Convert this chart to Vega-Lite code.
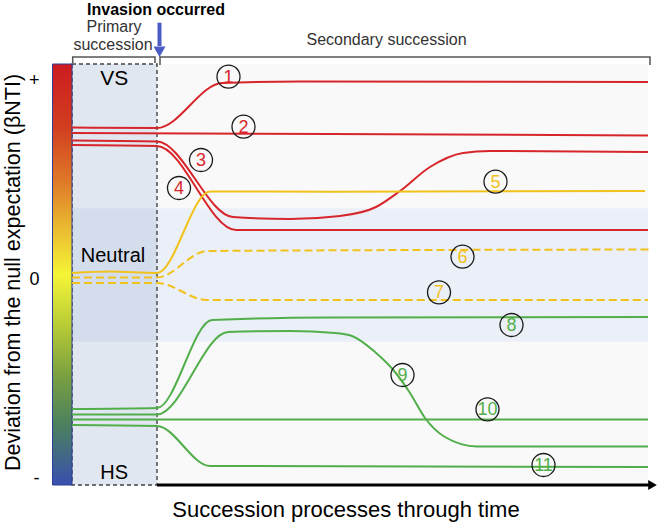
{
  "$schema": "https://vega.github.io/schema/vega-lite/v6.json",
  "width": 585,
  "height": 421,
  "autosize": {"type": "none"},
  "padding": {"left": 72, "top": 64, "right": 3, "bottom": 37},
  "background": "white",
  "config": {"font": "Liberation Sans", "view": {"stroke": null}},
  "datasets": {
    "curves": [
      {"id": 1, "group": "VS", "t": -17, "y": 1.475},
      {"id": 1, "group": "VS", "t": 0, "y": 1.47},
      {"id": 1, "group": "VS", "t": 13, "y": 1.92},
      {"id": 1, "group": "VS", "t": 28.6, "y": 1.935},
      {"id": 1, "group": "VS", "t": 98.2, "y": 1.93},
      {"id": 2, "group": "VS", "t": -17, "y": 1.42},
      {"id": 2, "group": "VS", "t": 34.6, "y": 1.41},
      {"id": 2, "group": "VS", "t": 98.2, "y": 1.395},
      {"id": 3, "group": "VS", "t": -17, "y": 1.345},
      {"id": 3, "group": "VS", "t": 0, "y": 1.335},
      {"id": 3, "group": "VS", "t": 15.2, "y": 0.58},
      {"id": 3, "group": "VS", "t": 26.6, "y": 0.56},
      {"id": 3, "group": "VS", "t": 36.6, "y": 0.59},
      {"id": 3, "group": "VS", "t": 43.8, "y": 0.68},
      {"id": 3, "group": "VS", "t": 48.6, "y": 0.84},
      {"id": 3, "group": "VS", "t": 54.6, "y": 1.08},
      {"id": 3, "group": "VS", "t": 61.2, "y": 1.22},
      {"id": 3, "group": "VS", "t": 66.6, "y": 1.24},
      {"id": 3, "group": "VS", "t": 98.2, "y": 1.23},
      {"id": 4, "group": "VS", "t": -17, "y": 1.30},
      {"id": 4, "group": "VS", "t": 0, "y": 1.29},
      {"id": 4, "group": "VS", "t": 15.8, "y": 0.45},
      {"id": 4, "group": "VS", "t": 98.2, "y": 0.45},
      {"id": 5, "group": "Neutral", "t": -17, "y": 0.02},
      {"id": 5, "group": "Neutral", "t": -9.4, "y": 0.035},
      {"id": 5, "group": "Neutral", "t": 0, "y": 0.02},
      {"id": 5, "group": "Neutral", "t": 10.6, "y": 0.835},
      {"id": 5, "group": "Neutral", "t": 34.6, "y": 0.833},
      {"id": 5, "group": "Neutral", "t": 97.6, "y": 0.84},
      {"id": 6, "group": "Neutral", "t": -17, "y": -0.025},
      {"id": 6, "group": "Neutral", "t": 0, "y": -0.025},
      {"id": 6, "group": "Neutral", "t": 10, "y": 0.24},
      {"id": 6, "group": "Neutral", "t": 98.4, "y": 0.255},
      {"id": 7, "group": "Neutral", "t": -17, "y": -0.08},
      {"id": 7, "group": "Neutral", "t": 0, "y": -0.08},
      {"id": 7, "group": "Neutral", "t": 10, "y": -0.25},
      {"id": 7, "group": "Neutral", "t": 98.2, "y": -0.25},
      {"id": 8, "group": "HS", "t": -17, "y": -1.34},
      {"id": 8, "group": "HS", "t": 0, "y": -1.33},
      {"id": 8, "group": "HS", "t": 11, "y": -0.45},
      {"id": 8, "group": "HS", "t": 34.6, "y": -0.425},
      {"id": 8, "group": "HS", "t": 98.2, "y": -0.42},
      {"id": 9, "group": "HS", "t": -17, "y": -1.395},
      {"id": 9, "group": "HS", "t": 0, "y": -1.395},
      {"id": 9, "group": "HS", "t": 14.2, "y": -0.57},
      {"id": 9, "group": "HS", "t": 26.6, "y": -0.56},
      {"id": 9, "group": "HS", "t": 35.6, "y": -0.58},
      {"id": 9, "group": "HS", "t": 39, "y": -0.61},
      {"id": 9, "group": "HS", "t": 43.6, "y": -0.77},
      {"id": 9, "group": "HS", "t": 47.6, "y": -0.97},
      {"id": 9, "group": "HS", "t": 50.6, "y": -1.18},
      {"id": 9, "group": "HS", "t": 53.6, "y": -1.43},
      {"id": 9, "group": "HS", "t": 57.6, "y": -1.62},
      {"id": 9, "group": "HS", "t": 64, "y": -1.715},
      {"id": 9, "group": "HS", "t": 98.2, "y": -1.715},
      {"id": 10, "group": "HS", "t": -17, "y": -1.445},
      {"id": 10, "group": "HS", "t": 98.2, "y": -1.445},
      {"id": 11, "group": "HS", "t": -17, "y": -1.50},
      {"id": 11, "group": "HS", "t": 0, "y": -1.51},
      {"id": 11, "group": "HS", "t": 10.6, "y": -1.91},
      {"id": 11, "group": "HS", "t": 98.2, "y": -1.92}
    ],
    "markers": [
      {"num": "1", "group": "VS", "t": 14.3, "y": 1.983},
      {"num": "2", "group": "VS", "t": 17.3, "y": 1.483},
      {"num": "3", "group": "VS", "t": 8.8, "y": 1.15},
      {"num": "4", "group": "VS", "t": 4.4, "y": 0.87},
      {"num": "5", "group": "Neutral", "t": 67.7, "y": 0.933},
      {"num": "6", "group": "Neutral", "t": 61.1, "y": 0.183},
      {"num": "7", "group": "Neutral", "t": 56.4, "y": -0.173},
      {"num": "8", "group": "HS", "t": 70.9, "y": -0.5},
      {"num": "9", "group": "HS", "t": 49.1, "y": -1.0},
      {"num": "10", "group": "HS", "t": 66.1, "y": -1.343},
      {"num": "11", "group": "HS", "t": 77.3, "y": -1.9}
    ]
  },
  "encoding": {
    "x": {
      "field": "t", "type": "quantitative",
      "scale": {"domain": [-17, 100], "nice": false, "zero": false},
      "axis": {
        "title": "Succession processes through time",
        "titleFontSize": 22, "titleFontWeight": "normal", "titleColor": "#000",
        "titleX": 273.5, "titleY": 31, "titleAlign": "center", "titleBaseline": "alphabetic",
        "labels": false, "ticks": false, "domain": false, "grid": false
      }
    },
    "y": {
      "field": "y", "type": "quantitative",
      "scale": {"domain": [-2.10, 2.11], "nice": false, "zero": false},
      "axis": {
        "title": "Deviation from the null expectation (βNTI)",
        "titleFontSize": 21.5, "titleFontWeight": "normal", "titleColor": "#000",
        "titleAngle": -90, "titleX": -53, "titleY": 208, "titleAlign": "center", "titleBaseline": "alphabetic",
        "values": [1.95, -0.04, -2.03],
        "labelExpr": "datum.value > 1 ? '+' : (datum.value < -1 ? '-' : '0')",
        "labelFontSize": 18, "labelColor": "#000", "labelPadding": 33,
        "ticks": false, "domain": false, "grid": false
      }
    }
  },
  "layer": [
    {
      "data": {"values": [{"t": -17, "t2": 98.2, "y": -2.10, "y2": 2.11}]},
      "mark": {"type": "rect", "color": "#f9f9f9"},
      "encoding": {"x2": {"field": "t2"}, "y2": {"field": "y2"}}
    },
    {
      "data": {"values": [{"t": -17, "t2": 98.2, "y": -0.667, "y2": 0.667}]},
      "mark": {"type": "rect", "color": "#ebeff7"},
      "encoding": {"x2": {"field": "t2"}, "y2": {"field": "y2"}}
    },
    {
      "data": {"values": [{"t": -17, "t2": 0, "y": -2.10, "y2": 2.11}]},
      "mark": {"type": "rect", "color": "#e1e7f1"},
      "encoding": {"x2": {"field": "t2"}, "y2": {"field": "y2"}}
    },
    {
      "data": {"values": [{"t": -17, "t2": 0, "y": -0.667, "y2": 0.667}]},
      "mark": {"type": "rect", "color": "#d4ddec"},
      "encoding": {"x2": {"field": "t2"}, "y2": {"field": "y2"}}
    },
    {
      "data": {"values": [{"t": -17, "t2": 0, "y": -2.10, "y2": 2.11}]},
      "mark": {"type": "rect", "filled": false, "stroke": "#444", "strokeWidth": 1.4, "strokeDash": [4, 3]},
      "encoding": {"x2": {"field": "t2"}, "y2": {"field": "y2"}}
    },
    {
      "data": {"values": [{"t": -20.9, "t2": -17, "y": -2.10, "y2": 2.11}]},
      "mark": {
        "type": "rect", "stroke": "#2e3f95", "strokeWidth": 1,
        "fill": {
          "gradient": "linear", "x1": 0, "y1": 0, "x2": 0, "y2": 1,
          "stops": [
            {"offset": 0, "color": "#cc1b1f"},
            {"offset": 0.15, "color": "#d23e20"},
            {"offset": 0.28, "color": "#df7a28"},
            {"offset": 0.38, "color": "#e9b530"},
            {"offset": 0.5, "color": "#f5f536"},
            {"offset": 0.62, "color": "#b8cc35"},
            {"offset": 0.74, "color": "#7aa040"},
            {"offset": 0.86, "color": "#4a8060"},
            {"offset": 1, "color": "#3a4fae"}
          ]
        }
      },
      "encoding": {"x2": {"field": "t2"}, "y2": {"field": "y2"}}
    },
    {
      "data": {"name": "curves"},
      "transform": [{"filter": "datum.id != 6 && datum.id != 7"}],
      "mark": {"type": "line", "interpolate": "monotone", "strokeWidth": 2},
      "encoding": {
        "detail": {"field": "id", "type": "nominal"},
        "color": {"field": "group", "type": "nominal", "legend": null,
          "scale": {"domain": ["VS", "Neutral", "HS"], "range": ["#d7262b", "#f1c21b", "#52ae4b"]}}
      }
    },
    {
      "data": {"name": "curves"},
      "transform": [{"filter": "datum.id == 6 || datum.id == 7"}],
      "mark": {"type": "line", "interpolate": "monotone", "strokeWidth": 2, "strokeDash": [8, 4]},
      "encoding": {
        "detail": {"field": "id", "type": "nominal"},
        "color": {"field": "group", "type": "nominal", "legend": null,
          "scale": {"domain": ["VS", "Neutral", "HS"], "range": ["#d7262b", "#f1c21b", "#52ae4b"]}}
      }
    },
    {
      "data": {"name": "markers"},
      "mark": {"type": "point", "shape": "circle", "filled": false, "size": 529, "stroke": "#1a1a1a", "strokeWidth": 1.3, "opacity": 1}
    },
    {
      "data": {"name": "markers"},
      "mark": {"type": "text", "fontSize": 18, "align": "center", "baseline": "middle", "dy": 1},
      "encoding": {
        "text": {"field": "num"},
        "color": {"field": "group", "type": "nominal", "legend": null,
          "scale": {"domain": ["VS", "Neutral", "HS"], "range": ["#d7262b", "#f1c21b", "#52ae4b"]}}
      }
    },
    {
      "data": {"values": [
        {"label": "VS", "t": -8.56, "y": 1.90, "size": 21},
        {"label": "Neutral", "t": -8.8, "y": 0.133, "size": 20},
        {"label": "HS", "t": -8.56, "y": -2.043, "size": 20}
      ]},
      "mark": {"type": "text", "align": "center", "baseline": "alphabetic", "color": "#000"},
      "encoding": {"text": {"field": "label"}, "size": {"field": "size", "type": "quantitative", "scale": null}}
    },
    {
      "data": {"values": [
        {"label": "Primary", "t": -8.6, "y": 2.433},
        {"label": "succession", "t": -8.8, "y": 2.25},
        {"label": "Secondary succession", "t": 45.9, "y": 2.30}
      ]},
      "mark": {"type": "text", "align": "center", "baseline": "alphabetic", "fontSize": 16, "color": "#333"},
      "encoding": {"text": {"field": "label"}}
    },
    {
      "data": {"values": [{"label": "Invasion occurred", "t": -0.2, "y": 2.6}]},
      "mark": {"type": "text", "align": "center", "baseline": "alphabetic", "fontSize": 16, "fontWeight": "bold", "color": "#000"},
      "encoding": {"text": {"field": "label"}}
    },
    {
      "data": {"values": [
        {"b": "primary", "k": 1, "t": -16.86, "y": 2.12},
        {"b": "primary", "k": 2, "t": -16.86, "y": 2.18},
        {"b": "primary", "k": 3, "t": -0.4, "y": 2.18},
        {"b": "primary", "k": 4, "t": -0.4, "y": 2.12},
        {"b": "secondary", "k": 1, "t": 0.6, "y": 2.10},
        {"b": "secondary", "k": 2, "t": 0.6, "y": 2.18},
        {"b": "secondary", "k": 3, "t": 98.6, "y": 2.18},
        {"b": "secondary", "k": 4, "t": 98.6, "y": 2.10}
      ]},
      "mark": {"type": "line", "color": "#555", "strokeWidth": 1.5},
      "encoding": {"detail": {"field": "b"}, "order": {"field": "k", "type": "quantitative"}}
    },
    {
      "data": {"values": [{"t": 0.5, "y": 2.523, "y2": 2.29}]},
      "mark": {"type": "rule", "color": "#4a5bc4", "strokeWidth": 4},
      "encoding": {"y2": {"field": "y2"}}
    },
    {
      "data": {"values": [{"t": 0.5, "y": 2.232}]},
      "mark": {"type": "point", "shape": "triangle-down", "filled": true, "size": 144, "color": "#4a5bc4", "opacity": 1}
    },
    {
      "data": {"values": [{"t": 0, "t2": 98.6, "y": -2.10}]},
      "mark": {"type": "rule", "color": "#000", "strokeWidth": 3},
      "encoding": {"x2": {"field": "t2"}}
    },
    {
      "data": {"values": [{"t": 99.1, "y": -2.10}]},
      "mark": {"type": "point", "shape": "triangle-right", "filled": true, "size": 100, "color": "#000", "opacity": 1}
    }
  ]
}
